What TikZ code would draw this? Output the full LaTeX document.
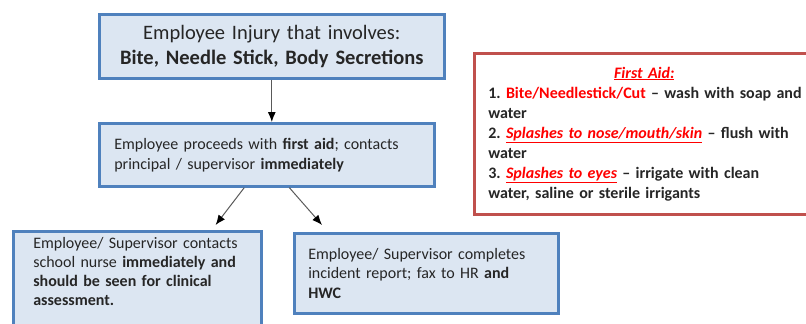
\documentclass[tikz,border=0pt]{standalone}
\usepackage{fontspec}
\setmainfont{Carlito}
\usetikzlibrary{arrows.meta}
\frenchspacing

\definecolor{boxblue}{HTML}{4F81BD}
\definecolor{boxfill}{HTML}{DCE6F2}
\definecolor{aidred}{HTML}{C0504D}
\definecolor{inkgray}{HTML}{262626}
\definecolor{hotred}{HTML}{FF0000}

\begin{document}
\begin{tikzpicture}[x=1pt,y=-1pt,
    line/.style={draw=black!65, -{Latex[length=10pt,width=8pt,color=black]}, line width=1pt},
    flowbox/.style={draw=boxblue, fill=boxfill, line width=2.6pt, anchor=north west,
      text=inkgray, align=left, inner ysep=6pt, font=\fontsize{16}{20}\selectfont},
    notebox/.style={draw=aidred, fill=white, line width=2.6pt, anchor=north west,
      text=inkgray, align=left, font=\fontsize{16}{20}\selectfont\bfseries},
    ]
    \useasboundingbox (0,0) rectangle (806,324);
    % Place nodes
    \node [flowbox, align=center, text width=329pt, inner xsep=8pt, minimum height=64pt,
      font=\fontsize{20.5}{25}\selectfont] (injury) at (98,13)
      {Employee Injury that involves:\\ \textbf{Bite, Needle Stick, Body Secretions}};
    \node [flowbox, text width=305pt, inner xsep=15pt, minimum height=63pt] (aid) at (98,122)
      {Employee proceeds with \textbf{first aid}; contacts\\
       principal / supervisor \textbf{immediately}};
    \node [flowbox, text width=208pt, inner xsep=20pt, text depth=100pt,
      font=\fontsize{16}{19}\selectfont] (nurse) at (12,230)
      {\mbox{Employee/ Supervisor contacts}\\
       \mbox{school nurse \textbf{immediately and}}\\
       \mbox{\textbf{should be seen for clinical}}\\
       \textbf{assessment.}};
    \node [flowbox, text width=236pt, inner xsep=14pt, minimum height=80pt,
      font=\fontsize{16}{19.5}\selectfont] (report) at (293,232)
      {Employee/ Supervisor completes\\
       incident report; fax to HR \textbf{and}\\
       \textbf{HWC}};
    \node [notebox, text width=330pt, inner xsep=14pt, minimum height=161pt] (firstaid) at (473,52)
      {\makebox[312pt]{\textcolor{hotred}{\textit{\underline{First Aid:}}}}\\
       \mbox{1. \textcolor{hotred}{Bite/Needlestick/Cut} – wash with soap and}\\
       water\\
       \mbox{2. \textcolor{hotred}{\textit{\underline{Splashes to nose/mouth/skin}}} – flush with}\\
       water\\
       \mbox{3. \textcolor{hotred}{\textit{\underline{Splashes to eyes}}} – irrigate with clean}\\
       water, saline or sterile irrigants};

    % Draw edges
    \path [line] (injury.south) -- (injury.south |- aid.north);
    \path [line] ([xshift=-22.5pt]aid.south) -- ([xshift=-47pt,yshift=5pt]nurse.north east);
    \path [line] ([xshift=22.5pt]aid.south) -- ([xshift=29pt,yshift=7pt]report.north west);
\end{tikzpicture}
\end{document}
